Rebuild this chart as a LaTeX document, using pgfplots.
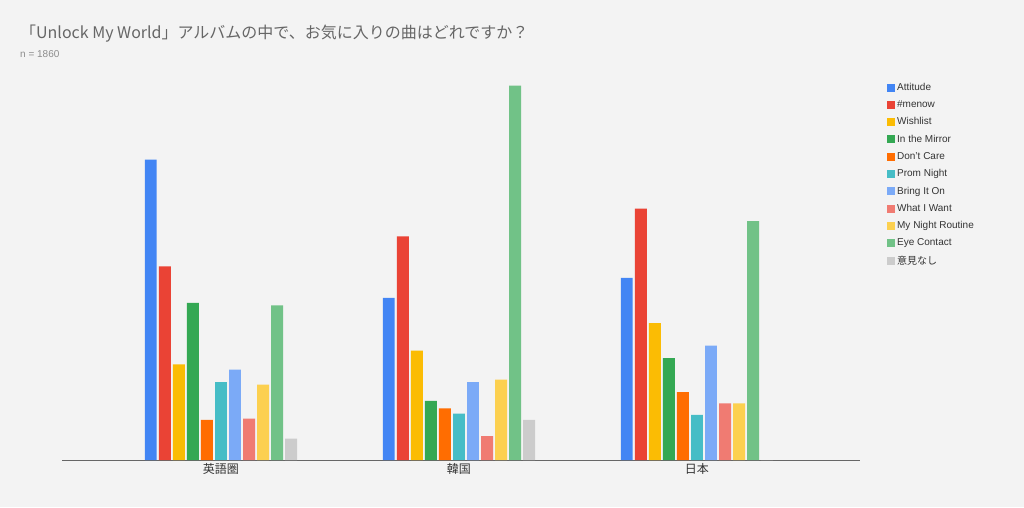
\documentclass[border=0pt]{standalone}
\usepackage{pgfplots}
\pgfplotsset{compat=1.18}
\usepackage{fontspec}
\setmainfont{Liberation Sans}
\newfontfamily\cjk{Noto Sans CJK JP}
\definecolor{c1}{HTML}{4285F4}\definecolor{c2}{HTML}{EA4335}\definecolor{c3}{HTML}{FBBC04}
\definecolor{c4}{HTML}{34A853}\definecolor{c5}{HTML}{FF6D01}\definecolor{c6}{HTML}{46BDC6}
\definecolor{c7}{HTML}{7BAAF7}\definecolor{c8}{HTML}{F07B72}\definecolor{c9}{HTML}{FCD04F}
\definecolor{c10}{HTML}{71C287}\definecolor{c11}{HTML}{CCCCCC}
\definecolor{bg}{HTML}{F3F3F3}
\begin{document}
\begin{tikzpicture}
\fill[bg] (0,0) rectangle (1024pt,507pt);
\node[anchor=base west,font=\cjk\fontsize{16}{18}\selectfont,text=black!60,inner sep=0] at (20pt,468pt) {「Unlock My World」アルバムの中で、お気に入りの曲はどれですか？};
\node[anchor=base west,font=\fontsize{10}{12}\selectfont,text=black!45,inner sep=0] at (20pt,449pt) {n = 1860};
\begin{axis}[at={(62pt,47pt)},anchor=south west,scale only axis,width=798pt,height=377pt,
 xmin=-0.668,xmax=2.685,ymin=0,ymax=30,
 xtick={0,1,2},xticklabels={英語圏,韓国,日本},
 xticklabel style={font=\cjk\fontsize{12}{14}\selectfont,text=black!80},
 ytick={0,10,20,30},minor y tick num=9,
 yticklabel={\pgfmathprintnumber[fixed,fixed zerofill,precision=1]{\tick}\%},
 /pgf/number format/assume math mode=true,
 yticklabel style={font=\fontsize{9}{11}\selectfont,text=black!80},
 ymajorgrids,yminorgrids,major grid style={black!25},minor grid style={black!12},
 axis x line*=bottom,axis y line=none,x axis line style={black!60,-},
 tick style={draw=none},
 legend cell align=left,
 legend style={at={(1.03,1.01)},anchor=north west,draw=none,fill=none,
   font=\fontsize{10}{12}\selectfont,row sep=4.6pt,text=black!80},
 legend image code/.code={\fill[#1] (0pt,-4pt) rectangle (8pt,4pt);},
 every axis plot/.append style={ybar,bar width=0.05,draw=none},
]
\addplot[fill=c1,bar shift=-0.295] coordinates {(0,23.9)(1,12.9)(2,14.5)};
\addlegendentry{Attitude}
\addplot[fill=c2,bar shift=-0.236] coordinates {(0,15.4)(1,17.8)(2,20.0)};
\addlegendentry{\#menow}
\addplot[fill=c3,bar shift=-0.177] coordinates {(0,7.6)(1,8.7)(2,10.9)};
\addlegendentry{Wishlist}
\addplot[fill=c4,bar shift=-0.118] coordinates {(0,12.5)(1,4.7)(2,8.1)};
\addlegendentry{In the Mirror}
\addplot[fill=c5,bar shift=-0.059] coordinates {(0,3.2)(1,4.1)(2,5.4)};
\addlegendentry{Don't Care}
\addplot[fill=c6,bar shift=0] coordinates {(0,6.2)(1,3.7)(2,3.6)};
\addlegendentry{Prom Night}
\addplot[fill=c7,bar shift=0.059] coordinates {(0,7.2)(1,6.2)(2,9.1)};
\addlegendentry{Bring It On}
\addplot[fill=c8,bar shift=0.118] coordinates {(0,3.3)(1,1.9)(2,4.5)};
\addlegendentry{What I Want}
\addplot[fill=c9,bar shift=0.177] coordinates {(0,6.0)(1,6.4)(2,4.5)};
\addlegendentry{My Night Routine}
\addplot[fill=c10,bar shift=0.236] coordinates {(0,12.3)(1,29.8)(2,19.0)};
\addlegendentry{Eye Contact}
\addplot[fill=c11,bar shift=0.295] coordinates {(0,1.7)(1,3.2)(2,0)};
\addlegendentry{\cjk 意見なし}
\end{axis}
\end{tikzpicture}
\end{document}
